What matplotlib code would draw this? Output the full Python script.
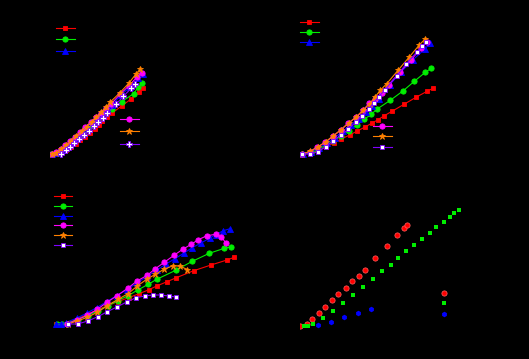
import matplotlib
matplotlib.use('Agg')
import matplotlib.pyplot as plt
from matplotlib.legend import Legend

W, H = 529, 359

# ---- panel 1 ----
p1_red_x = [1, 6, 11.5, 16, 21, 25.5, 30, 35, 40, 45, 49, 52, 57, 61.7, 71.7, 81, 89, 92.7]
p1_red_y = [5.5, 6.5, 8, 10.5, 13.5, 16.5, 20, 23.5, 27.5, 31.5, 35, 39, 42.7, 46.7, 54, 61, 68, 72.3]
p1_green_x = [1, 6, 11, 16, 21, 26, 31, 36, 41, 46, 51, 56, 62, 71.7, 84, 88.3, 92.3]
p1_green_y = [6, 7.5, 10, 13.5, 17.5, 21.5, 25.5, 30, 34.5, 39, 43, 47, 50.7, 58.5, 66.5, 73.3, 76.7]
p1_blue_x = [2, 7, 12, 16, 21, 26, 31, 36, 42, 47, 52, 57, 62, 71, 80, 88, 92.5]
p1_blue_y = [6, 7.5, 10.5, 14, 18, 22.5, 27, 32.5, 37, 42.5, 46.5, 51, 55, 65, 73, 82, 86]
p1_mag_x = [1.7, 6, 11, 15.3, 20.3, 25.3, 30, 35.3, 41.3, 46.3, 51, 56, 61, 70.3, 79, 87.3, 91.7]
p1_mag_y = [6.3, 8, 11, 14.7, 18.7, 23.3, 28, 33.3, 38, 43.3, 47.3, 52, 56, 66, 74.3, 83.3, 87.3]
p1_org_x = [1.7, 6, 11, 15.7, 21, 26.3, 31.5, 36.7, 41.5, 46.3, 51, 56, 60.3, 70, 78.7, 86, 90.3]
p1_org_y = [6, 7.5, 11, 14.7, 19.5, 24.3, 29, 33.3, 38.5, 42.7, 48, 52.7, 58, 67.3, 76.7, 86, 91]
p1_pur_x = [11.3, 15.7, 20, 24.3, 29.3, 34.3, 39.3, 44.3, 48.3, 53.3, 57.3, 66, 73.3, 81.3, 85]
p1_pur_y = [6.5, 9.7, 12.7, 16.7, 20.7, 24.7, 29, 33.7, 38, 42, 46.7, 55.7, 63.7, 71.7, 75.7]

# ---- panel 2 ----
p2_red_x = [2.3, 10.7, 18.3, 25.7, 33.7, 41.3, 49.7, 57.3, 65, 71.7, 78, 84.3, 92, 104, 116, 127, 133]
p2_red_y = [6, 6.7, 9.7, 13, 17, 21, 25, 29, 33, 36.7, 40.3, 44.3, 48.7, 55.7, 62.7, 68.7, 71.7]
p2_green_x = [2.3, 10.7, 18.3, 25.7, 33.3, 41.3, 49, 57, 64.3, 71.3, 76.7, 90.3, 103.3, 114.3, 125.3, 131.3]
p2_green_y = [6, 7.3, 10.3, 15, 19, 24, 29.3, 35, 40.7, 45.7, 50.7, 59.7, 69.3, 78.7, 87.7, 91.7]
p2_blue_x = [2.5, 11, 19, 27, 35, 43, 51, 58.5, 65.5, 72, 78.5, 89.7, 101.3, 112.7, 125, 129.7]
p2_blue_y = [6, 8, 12, 17, 22.5, 29, 35.5, 41.5, 48, 54.5, 61, 75.3, 88.3, 100, 111, 116.7]
p2_mag_x = [2, 9.7, 17.3, 25.3, 33, 40.7, 48, 56.3, 63, 69.3, 75, 82, 88.7, 100.3, 111, 121.3, 127.3]
p2_mag_y = [6, 8.3, 13, 17.7, 23.7, 30, 36.7, 42.7, 49.7, 56.7, 61, 67.3, 75.3, 88.3, 100, 112, 118.3]
p2_org_x = [2.3, 10, 18, 25.7, 33.3, 41, 48.7, 56.3, 63, 69.7, 75, 80.3, 86.7, 98.3, 109, 119.3, 125.3]
p2_org_y = [6, 8.7, 13, 18.3, 24.3, 30.3, 37, 43.3, 49.7, 56.3, 63, 69.7, 76.3, 90, 102.7, 115, 121.3]
p2_pur_x = [2.3, 10.3, 18.3, 25.7, 33, 40.7, 48.3, 55.7, 62, 68.7, 73.7, 78.7, 84.7, 96.7, 106.3, 116.7, 122, 126.3]
p2_pur_y = [6, 6, 8.3, 13.3, 19, 25, 30.7, 38, 44, 51, 57.3, 63.3, 70, 84, 96.3, 107.7, 114, 118.3]

# ---- panel 3 ----
p3_red_x = [6, 18, 28, 38, 48, 58, 68, 78.7, 89, 99, 106.7, 117, 126.3, 143.7, 161, 177, 184.3]
p3_red_y = [6, 7, 11.5, 16, 20.5, 24.5, 28.5, 32.3, 36.3, 40.3, 44, 48.3, 52.3, 59.3, 65, 70, 72.7]
p3_green_x = [6.7, 11.7, 17, 27.5, 37.5, 47.5, 57.5, 67.7, 78, 87.7, 98.3, 106.7, 125.7, 142.3, 159.3, 174.3, 181.3]
p3_green_y = [6, 6.3, 6.5, 10.5, 14.5, 19, 24, 29.3, 34.3, 40, 45.7, 50.7, 59.7, 68.7, 76.7, 81.7, 83.3]
p3_blue_x = [6, 11, 16, 27, 37, 47, 57, 67, 77, 87, 97, 107, 116, 125, 134, 142.3, 151, 160, 166, 173.3, 180]
p3_blue_y = [6, 6.5, 7.5, 12, 17, 22.5, 28.5, 34.5, 40.5, 47, 53.5, 60, 66, 71.3, 77, 82.3, 87, 92, 95.5, 99.3, 101.3]
p3_mag_x = [16.7, 26.7, 37.3, 47.3, 57, 67, 77.7, 87, 97.3, 105.3, 114.3, 124, 132.7, 141.3, 148.3, 157, 165.7, 171.3, 176]
p3_mag_y = [6, 10, 14.7, 20.7, 27.7, 34.3, 41.7, 49, 54.7, 61.3, 67.7, 74.7, 80.7, 85.7, 90.3, 94.3, 95.7, 93.3, 86.7]
p3_org_x = [17.7, 27.3, 37.3, 47.3, 57.3, 68, 78, 87.3, 96.7, 105.3, 114, 123, 130.3, 137.3]
p3_org_y = [6, 9, 12.7, 17.7, 24.3, 30.7, 36.3, 44, 50.7, 55.7, 60.7, 64.3, 63.7, 60.5]
p3_pur_x = [17.7, 27.7, 37.7, 47.7, 57.3, 66.7, 76.7, 86, 94.7, 102.7, 110.7, 118.7, 125.7]
p3_pur_y = [6, 6, 9, 13.3, 18.3, 23, 28, 32.3, 34, 35, 35, 34, 33]

# ---- panel 4 (scatter) ----
p4_red_x = [0, 6.7, 12.3, 19, 25, 32, 38.3, 45.7, 52.3, 59.3, 64.7, 75.3, 86.7, 97, 104, 107]
p4_red_y = [4, 6, 10.7, 16.7, 23.3, 29.7, 35.7, 41.7, 49, 54.3, 59.7, 72.3, 83.7, 94.7, 102.3, 105]
p4_green_x = [4, 8, 13, 22.7, 32.7, 42.7, 52.7, 62.7, 72.7, 82, 90.7, 98.3, 105.7, 113.7, 121.7, 129.7, 136.3, 144, 149.7, 154.3, 159]
p4_green_y = [4, 4, 5.7, 12.3, 19, 27, 35, 43, 51, 58.7, 65, 72, 78.7, 85, 91, 97, 103, 108, 113, 116.7, 120]
p4_blue_x = [18.3, 31.3, 44.3, 57.7, 70.7]
p4_blue_y = [5.3, 8.5, 12.7, 17.3, 20.7]

labels = ['case 1', 'case 2', 'case 3', 'case 4', 'case 5', 'case 6']

RED, GREEN, BLUE = '#ff0000', '#00ee00', '#0000ff'
MAG, ORG, PUR = '#ff00ff', '#ff8000', '#8000ff'

fig = plt.figure(figsize=(W / 100, H / 100), dpi=100, facecolor='black')


def panel(ox, oy):
    ax = fig.add_axes([ox / W, (H - oy) / H, 200 / W, 140 / H])
    ax.set_xlim(0, 200)
    ax.set_ylim(0, 140)
    ax.axis('off')
    return ax


def line(ax, x, y, c, m, ms, **kw):
    return ax.plot(x, y, color=c, marker=m, ms=ms, lw=0.8, mec=kw.pop('mec', c),
                   mfc=kw.pop('mfc', c), mew=kw.pop('mew', 0.6), **kw)[0]


def legend(ax, handles, labs, x_px, y_px, gap_px, hl=2.7, fs=5):
    # gap_px: distance between rows in pixels
    ls = (gap_px * 0.72 - 0.876 * fs) / fs
    leg = Legend(ax, handles, labs, loc='upper left',
                 bbox_to_anchor=(x_px / W, 1 - (y_px - 3) / H), bbox_transform=fig.transFigure,
                 frameon=False, fontsize=fs, borderpad=0, borderaxespad=0,
                 handlelength=hl, handletextpad=0.5, labelspacing=ls, numpoints=1,
                 labelcolor='black')
    ax.add_artist(leg)


# panel 1
ax1 = panel(50, 160)
h = [line(ax1, p1_red_x, p1_red_y, RED, 's', 3.2),
     line(ax1, p1_green_x, p1_green_y, GREEN, 'o', 3.8),
     line(ax1, p1_blue_x, p1_blue_y, BLUE, '^', 4),
     line(ax1, p1_mag_x, p1_mag_y, MAG, 'o', 3.8),
     line(ax1, p1_org_x, p1_org_y, ORG, '*', 5),
     line(ax1, p1_pur_x, p1_pur_y, PUR, 'P', 4.5, mfc='white')]
legend(ax1, h[:3], labels[:3], 56, 28, 12)
legend(ax1, h[3:], labels[3:], 120, 119.3, 12.5)

# panel 2
ax2 = panel(300, 160)
h = [line(ax2, p2_red_x, p2_red_y, RED, 's', 3.2),
     line(ax2, p2_green_x, p2_green_y, GREEN, 'o', 3.8),
     line(ax2, p2_blue_x, p2_blue_y, BLUE, '^', 4),
     line(ax2, p2_mag_x, p2_mag_y, MAG, 'o', 3.8),
     line(ax2, p2_org_x, p2_org_y, ORG, '*', 5),
     line(ax2, p2_pur_x, p2_pur_y, PUR, 's', 3.5, mfc='white')]
legend(ax2, h[:3], labels[:3], 300, 22, 10.2)
legend(ax2, h[3:], labels[3:], 373, 126.3, 10.4)

# panel 3
ax3 = panel(50, 330)
h = [line(ax3, p3_red_x, p3_red_y, RED, 's', 3.2),
     line(ax3, p3_green_x, p3_green_y, GREEN, 'o', 3.8),
     line(ax3, p3_blue_x, p3_blue_y, BLUE, '^', 4),
     line(ax3, p3_mag_x, p3_mag_y, MAG, 'o', 3.8),
     line(ax3, p3_org_x, p3_org_y, ORG, '*', 5),
     line(ax3, p3_pur_x, p3_pur_y, PUR, 's', 3.5, mfc='white')]
legend(ax3, h, labels, 54, 196.7, 9.8, hl=2.6)

# panel 4
ax4 = panel(300, 330)
h = [ax4.plot(p4_red_x, p4_red_y, 'o', color=RED, ms=3.8, mec='#ff6060', mew=0.5)[0],
     ax4.plot(p4_green_x, p4_green_y, 's', color=GREEN, ms=3.3, mew=0)[0],
     ax4.plot(p4_blue_x, p4_blue_y, 'h', color=BLUE, ms=4, mew=0)[0]]
legend(ax4, h, labels[:3], 443.5 - 5 * 1.0 * 100 / 72 / 2, 293.3, 10.5, hl=1.0)

fig.savefig('out.png', dpi=100, facecolor='black')
